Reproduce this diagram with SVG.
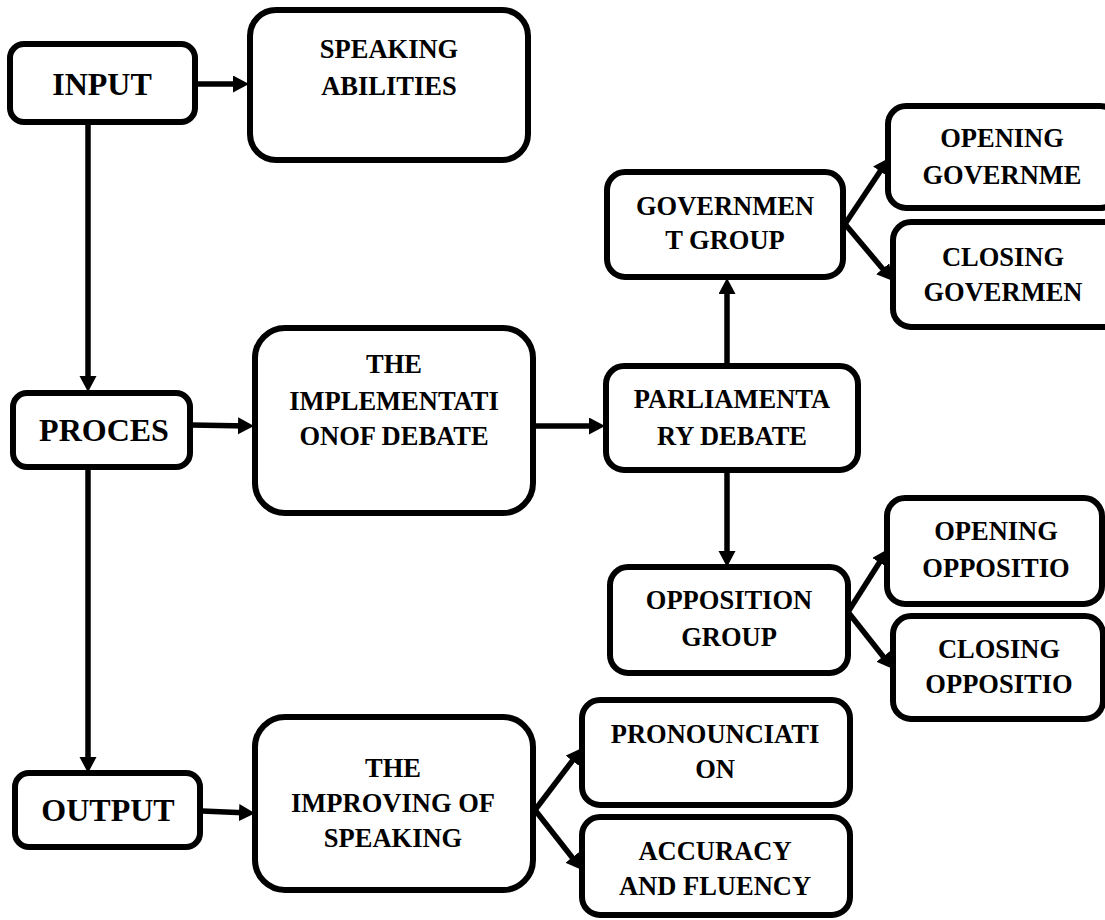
<svg xmlns="http://www.w3.org/2000/svg" width="1105" height="920" viewBox="0 0 1105 920">
<style>
.box{fill:#fff;stroke:#000;stroke-width:6}
.t{font-family:"Liberation Serif","Times New Roman",serif;font-weight:bold;font-size:26.5px;text-anchor:middle;fill:#000}
.big{font-size:32px}
.c{stroke:#000;stroke-width:5.5;fill:none}
</style>
<defs>
<marker id="ah" markerUnits="userSpaceOnUse" markerWidth="18" markerHeight="18" refX="10" refY="8.5" orient="auto">
<path d="M0,0 L16,8.5 L0,17 Z" fill="#000"/>
</marker>
</defs>
<rect width="1105" height="920" fill="#fff"/>
<g id="connectors">
<line class="c" x1="197" y1="84" x2="243" y2="84" marker-end="url(#ah)"/>
<line class="c" x1="88" y1="122" x2="88" y2="386" marker-end="url(#ah)"/>
<line class="c" x1="191" y1="425" x2="248" y2="426" marker-end="url(#ah)"/>
<line class="c" x1="535" y1="426" x2="599" y2="426" marker-end="url(#ah)"/>
<line class="c" x1="727" y1="366" x2="727" y2="284" marker-end="url(#ah)"/>
<line class="c" x1="845" y1="224" x2="885.7" y2="163" marker-end="url(#ah)"/>
<line class="c" x1="845" y1="224" x2="889.1" y2="276.4" marker-end="url(#ah)"/>
<line class="c" x1="727" y1="471" x2="727" y2="561" marker-end="url(#ah)"/>
<line class="c" x1="848" y1="612" x2="884.8" y2="554.1" marker-end="url(#ah)"/>
<line class="c" x1="848" y1="612" x2="889.3" y2="664.3" marker-end="url(#ah)"/>
<line class="c" x1="88" y1="467" x2="88" y2="767" marker-end="url(#ah)"/>
<line class="c" x1="202" y1="811" x2="249" y2="813" marker-end="url(#ah)"/>
<line class="c" x1="535" y1="810" x2="578.4" y2="752.8" marker-end="url(#ah)"/>
<line class="c" x1="535" y1="810" x2="578.3" y2="865.3" marker-end="url(#ah)"/>
</g>
<g id="input"><rect class="box" x="10" y="44" width="185" height="78" rx="14"/><text class="t big" x="102" y="95">INPUT</text></g>
<g id="speaking-abilities"><rect class="box" x="250" y="10" width="278" height="150" rx="26"/><text class="t" x="389" y="58">SPEAKING</text><text class="t" x="389" y="95">ABILITIES</text></g>
<g id="proces"><rect class="box" x="13" y="393" width="177" height="74" rx="14"/><text class="t big" x="104" y="441">PROCES</text></g>
<g id="implementation"><rect class="box" x="255" y="328" width="278" height="185" rx="30"/><text class="t" x="394" y="373">THE</text><text class="t" x="394" y="410">IMPLEMENTATI</text><text class="t" x="394" y="445">ONOF DEBATE</text></g>
<g id="parliamentary-debate"><rect class="box" x="606" y="366" width="252" height="104" rx="18"/><text class="t" x="732" y="408">PARLIAMENTA</text><text class="t" x="732" y="445">RY DEBATE</text></g>
<g id="government-group"><rect class="box" x="607" y="172" width="236" height="105" rx="18"/><text class="t" x="725" y="215">GOVERNMEN</text><text class="t" x="725" y="249">T GROUP</text></g>
<g id="opening-government"><rect class="box" x="888" y="106" width="230" height="102" rx="18"/><text class="t" x="1002" y="147">OPENING</text><text class="t" x="1002" y="184">GOVERNME</text></g>
<g id="closing-government"><rect class="box" x="893" y="222" width="230" height="105" rx="18"/><text class="t" x="1003" y="266">CLOSING</text><text class="t" x="1003" y="301">GOVERMEN</text></g>
<g id="opposition-group"><rect class="box" x="610" y="567" width="238" height="106" rx="18"/><text class="t" x="729" y="609">OPPOSITION</text><text class="t" x="729" y="646">GROUP</text></g>
<g id="opening-opposition"><rect class="box" x="887" y="498" width="215" height="106" rx="18"/><text class="t" x="996" y="540">OPENING</text><text class="t" x="996" y="577">OPPOSITIO</text></g>
<g id="closing-opposition"><rect class="box" x="893" y="616" width="210" height="103" rx="18"/><text class="t" x="999" y="658">CLOSING</text><text class="t" x="999" y="693">OPPOSITIO</text></g>
<g id="output"><rect class="box" x="15" y="773" width="185" height="74" rx="14"/><text class="t big" x="108" y="821">OUTPUT</text></g>
<g id="improving-speaking"><rect class="box" x="255" y="717" width="278" height="173" rx="30"/><text class="t" x="393" y="777">THE</text><text class="t" x="393" y="812">IMPROVING OF</text><text class="t" x="393" y="847">SPEAKING</text></g>
<g id="pronounciation"><rect class="box" x="582" y="700" width="268" height="105" rx="18"/><text class="t" x="715" y="743">PRONOUNCIATI</text><text class="t" x="715" y="778">ON</text></g>
<g id="accuracy-fluency"><rect class="box" x="582" y="817" width="268" height="98" rx="18"/><text class="t" x="715" y="860">ACCURACY</text><text class="t" x="715" y="895">AND FLUENCY</text></g>
</svg>
